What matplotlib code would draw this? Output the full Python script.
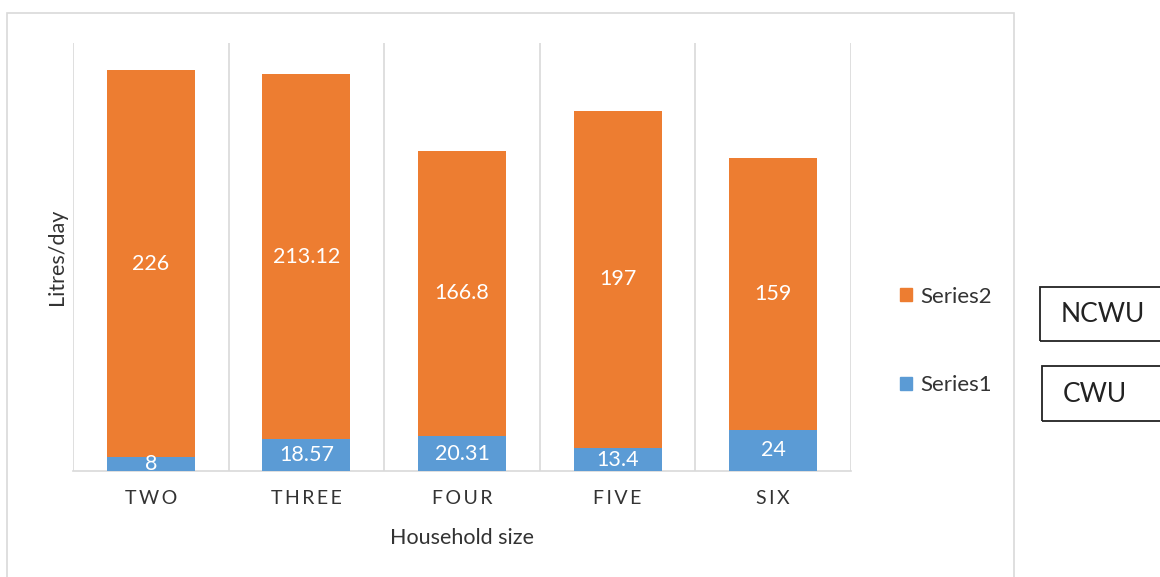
import matplotlib
matplotlib.use("Agg")
import matplotlib.pyplot as plt
from matplotlib.patches import Rectangle, Patch

# household water use, litres per day
sizes = ["TWO", "THREE", "FOUR", "FIVE", "SIX"]
series1 = [8, 18.57, 20.31, 13.4, 24]          # CWU
series2 = [226, 213.12, 166.8, 197, 159]       # NCWU

blue = "#5B9BD5"
orange = "#ED7D31"
grid_col = "#D9D9D9"
txt_col = "#333333"

plt.rcParams["font.family"] = ["Lato", "DejaVu Sans"]

W, H = 1160, 577
fig = plt.figure(figsize=(W / 100, H / 100), dpi=100)


def fx(px):
    return px / W


def fy(py):
    return 1 - py / H


# outer chart frame
fig.patches.append(Rectangle((fx(7), fy(600)), fx(1014) - fx(7), fy(13) - fy(600),
                             transform=fig.transFigure, fill=False,
                             edgecolor=grid_col, lw=1.2))

ax = fig.add_axes([fx(73), fy(471), fx(851) - fx(73), fy(43) - fy(471)])

x = range(len(sizes))
b1 = ax.bar(x, series1, width=0.566, color=blue, zorder=3)
b2 = ax.bar(x, series2, width=0.566, bottom=series1, color=orange, zorder=3)

ax.bar_label(b1, labels=[f"{v:g}" for v in series1], label_type="center",
             color="white", fontsize=15.5, zorder=4)
ax.bar_label(b2, labels=[f"{v:g}" for v in series2], label_type="center",
             color="white", fontsize=15.5, zorder=4)

ax.set_xlim(-0.5, len(sizes) - 0.5)
ax.set_ylim(0, 250)

# category separators
ax.set_xticks([i + 0.5 for i in range(-1, len(sizes))], minor=True)
ax.grid(axis="x", which="minor", color=grid_col, lw=1.2, zorder=0)
ax.set_xticks(list(x))
ax.set_xticklabels(["\u2009".join(s) for s in sizes], fontsize=14, color=txt_col)
ax.tick_params(axis="x", which="both", length=0, pad=14)
ax.set_yticks([])

for s in ["top", "right", "left"]:
    ax.spines[s].set_visible(False)
ax.spines["bottom"].set_color(grid_col)
ax.spines["bottom"].set_linewidth(1.2)

ax.set_xlabel("Household size", fontsize=15.5, color=txt_col)
ax.xaxis.set_label_coords(0.5, (471 - 538) / 428)
ax.xaxis.label.set_va("center")
ax.set_ylabel("Litres/day", fontsize=15.5, color=txt_col)
ax.yaxis.set_label_coords((57 - 73) / 778, 0.5)
ax.yaxis.label.set_va("center")

handles = [Patch(color=orange, label="Series2"), Patch(color=blue, label="Series1")]
fig.legend(handles=handles, loc="center left", bbox_to_anchor=(fx(880), fy(341)),
           frameon=False, fontsize=16, labelcolor=txt_col, handlelength=0.55,
           handleheight=0.55, handletextpad=0.35, labelspacing=3.1)

# side boxes naming the series
for top, bottom, left, label in [(287, 341, 1040, "NCWU"), (366, 421, 1042, "CWU")]:
    fig.patches.append(Rectangle((fx(left), fy(bottom)), fx(1200) - fx(left),
                                 fy(top) - fy(bottom), transform=fig.transFigure,
                                 fill=False, edgecolor="#222222", lw=1.3))
    fig.text(fx(left + 21), fy((top + bottom) / 2 + 1), label, fontsize=19,
             color="#222222", va="center", ha="left")

fig.savefig("out.png", dpi=100)
